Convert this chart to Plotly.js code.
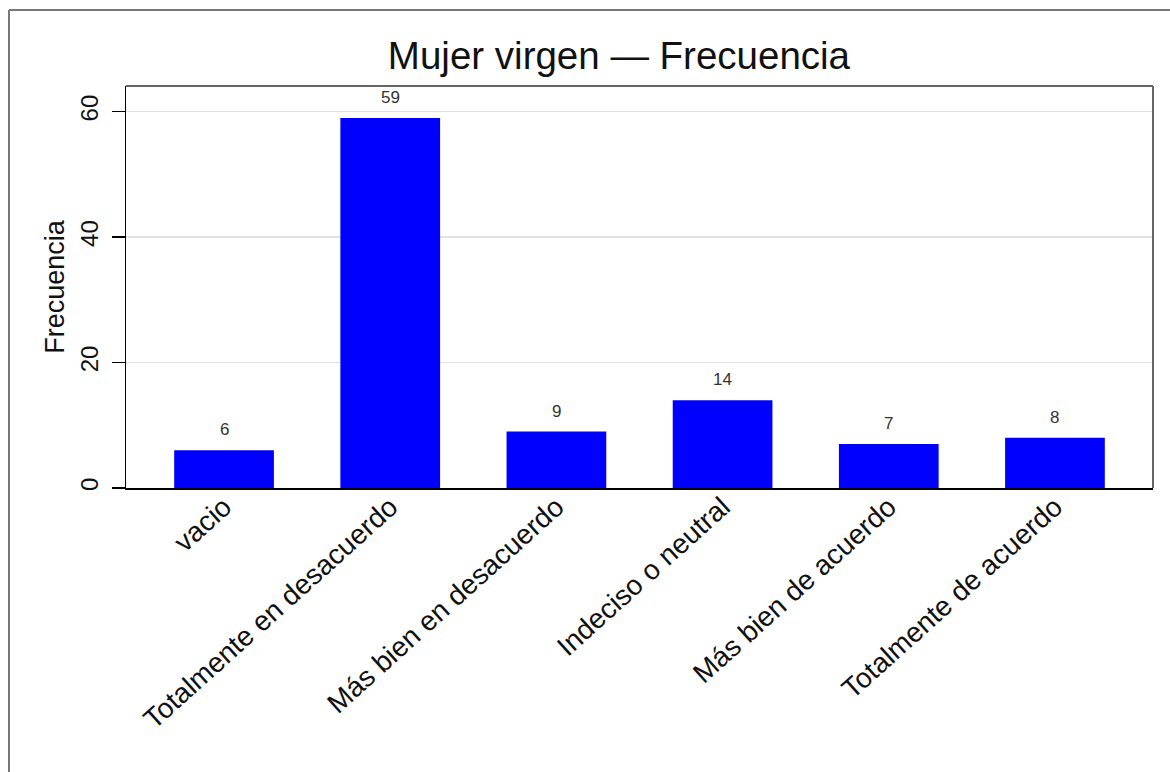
<!DOCTYPE html>
<html>
<head>
<meta charset="utf-8">
<script src="https://cdn.plot.ly/plotly-3.0.1.min.js"></script>
<style>html,body{margin:0;padding:0;background:#fff;}#chart{width:1170px;height:772px;}</style>
</head>
<body>
<div id="chart"></div>
<script>
const categories = ["vacio", "Totalmente en desacuerdo", "Más bien en desacuerdo", "Indeciso o neutral", "Más bien de acuerdo", "Totalmente de acuerdo"];
const frecuencia = [6, 59, 9, 14, 7, 8];
const yTicks = [0, 20, 40, 60];
const chartTitle = "Mujer virgen — Frecuencia";
const yTitle = "Frecuencia";

const FONT = '"Liberation Sans", Arial, Helvetica, sans-serif';

const trace = {
  type: 'bar',
  x: categories,
  y: frecuencia,
  width: 0.6,
  marker: {color: '#0000ff', line: {width: 0}},
  hoverinfo: 'x+y'
};

const annotations = categories.map((c, i) => ({
  x: c, y: frecuencia[i], xref: 'x', yref: 'y',
  text: String(frecuencia[i]), showarrow: false,
  yanchor: 'bottom', yshift: 9,
  font: {family: FONT, size: 17, color: '#333333'}
}));

const layout = {
  width: 1170, height: 772,
  margin: {l: 126, r: 17, t: 86, b: 284},
  paper_bgcolor: '#ffffff', plot_bgcolor: '#ffffff',
  font: {family: FONT, color: '#111111'},
  showlegend: false,
  title: {
    text: chartTitle,
    font: {family: FONT, size: 38.5, color: '#111111'},
    x: 0.48, xref: 'paper', xanchor: 'center',
    y: 1 - 56/772, yref: 'container', yanchor: 'middle'
  },
  xaxis: {
    type: 'category',
    range: [-0.59, 5.59],
    tickangle: -42,
    ticks: '',
    ticklabelstandoff: -10,
    showline: true, linecolor: '#000000', linewidth: 1.5,
    showgrid: false, zeroline: false,
    tickfont: {family: FONT, size: 28, color: '#111111'},
    fixedrange: true
  },
  yaxis: {
    range: [0, 64.1],
    tickvals: yTicks,
    ticktext: yTicks.map(String),
    tickangle: -90,
    ticks: 'outside', ticklen: 13, tickwidth: 1.5, tickcolor: '#000000',
    ticklabelstandoff: 4,
    showline: true, linecolor: '#000000', linewidth: 1.5,
    showgrid: true, gridcolor: '#e2e2e2', gridwidth: 1.5,
    zeroline: false,
    tickfont: {family: FONT, size: 24, color: '#111111'},
    title: {text: yTitle, font: {family: FONT, size: 27, color: '#111111'}, standoff: 3},
    fixedrange: true
  },
  annotations: annotations,
  shapes: [
    {type: 'line', xref: 'paper', yref: 'paper', x0: 0, x1: 1, y0: 1, y1: 1, line: {color: '#666666', width: 2}},
    {type: 'line', xref: 'paper', yref: 'paper', x0: 1, x1: 1, y0: 0, y1: 1, line: {color: '#666666', width: 2}},
    {type: 'line', xref: 'paper', yref: 'paper', x0: -117/1027, x1: 1.2, y0: 1 + 76/402, y1: 1 + 76/402, line: {color: '#777777', width: 2}},
    {type: 'line', xref: 'paper', yref: 'paper', x0: -117/1027, x1: -117/1027, y0: 1 + 76/402, y1: -1, line: {color: '#777777', width: 2}}
  ]
};

Plotly.newPlot('chart', [trace], layout, {displayModeBar: false, staticPlot: true});
</script>
</body>
</html>
